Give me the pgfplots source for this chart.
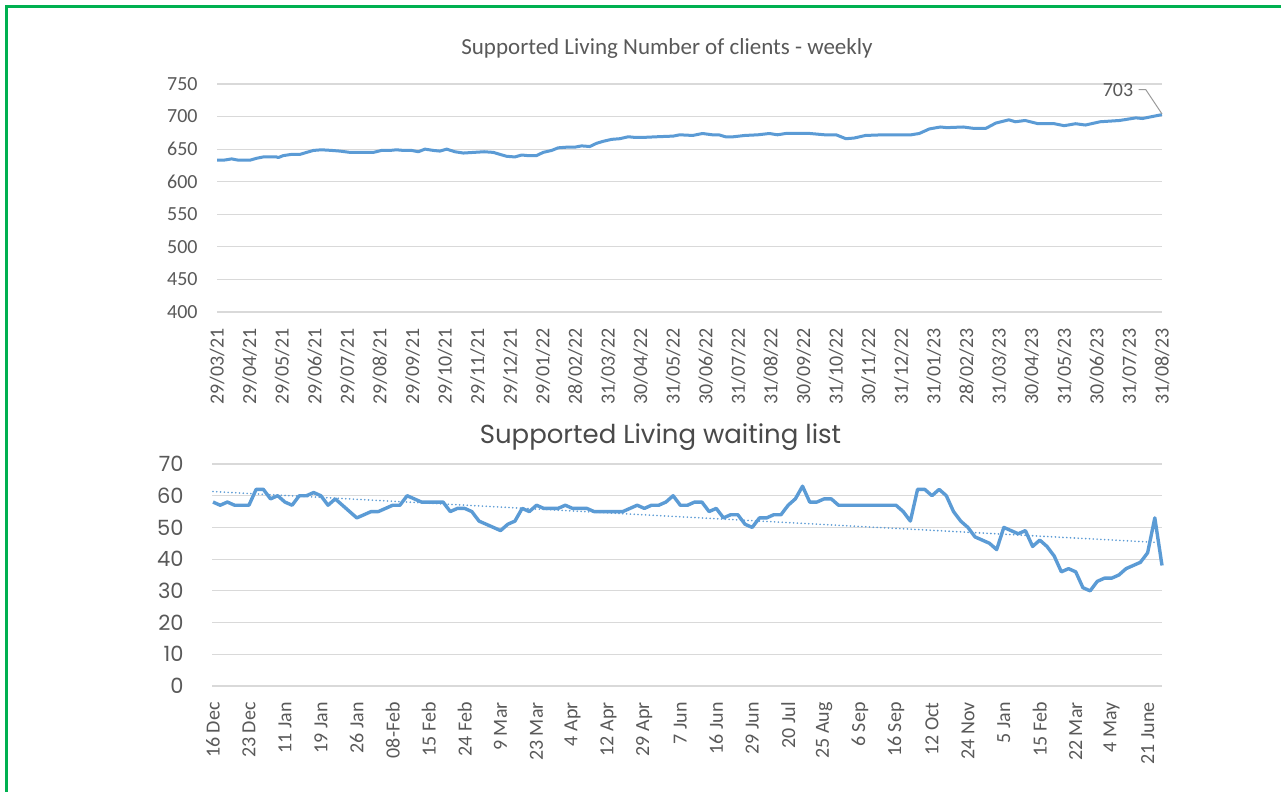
\documentclass[border=0pt]{standalone}
\usepackage{fontspec}
\setmainfont{Carlito}
\newfontfamily\geofont{Poppins}
\usepackage{pgfplots}
\pgfplotsset{compat=1.18}
\usepackage{pgfplotstable}
\definecolor{lineblue}{HTML}{5B9BD5}
\definecolor{gridgray}{HTML}{D9D9D9}
\definecolor{tickgray}{HTML}{595959}
\definecolor{titlegray}{HTML}{4A4A4A}
\definecolor{framegreen}{HTML}{00B050}

% weekly clients, x in months since 29/03/21
\pgfplotstableread{
m val
0 633
0.2 633
0.45 635
0.66 633
1.01 633
1.22 636
1.42 638
1.83 638
1.88 637
2.03 640
2.29 642
2.55 642
2.75 645
2.96 648
3.21 649
3.52 648
3.77 647
4.08 645
4.8 645
5.05 648
5.31 648
5.51 649
5.72 648
5.97 648
6.18 646
6.38 650
6.64 648
6.84 647
7.05 650
7.3 646
7.56 644
8.2 646
8.48 645
8.68 642
8.89 639
9.14 638
9.35 641
9.55 640
9.8 640
10.01 645
10.27 648
10.47 652
10.73 653
10.98 653
11.19 655
11.44 654
11.65 659
11.85 662
12.11 665
12.36 666
12.62 669
12.82 668
13.08 668
13.5 669
14.0 670
14.2 672
14.6 671
14.9 674
15.2 672
15.4 672
15.6 669
15.85 669
16.2 671
16.6 672
16.95 674
17.2 672
17.45 674
17.8 674
18.2 674
18.65 672
19.0 672
19.3 666
19.55 667
19.9 671
20.45 672
20.9 672
21.3 672
21.55 674
21.86 681
22.2 684
22.4 683
22.9 684
23.2 682
23.6 682
23.9 690
24.3 695
24.5 692
24.8 694
25.2 689
25.7 689
26.0 686
26.35 689
26.65 687
27.1 692
27.7 694
28.2 698
28.4 697
28.9 702
29 703
}\clients

% waiting list, one row per category
\pgfplotstableread{
i val
0 58
1 57
2 58
3 57
4 57
5 57
6 62
7 62
8 59
9 60
10 58
11 57
12 60
13 60
14 61
15 60
16 57
17 59
18 57
19 55
20 53
21 54
22 55
23 55
24 56
25 57
26 57
27 60
28 59
29 58
30 58
31 58
32 58
33 55
34 56
35 56
36 55
37 52
38 51
39 50
40 49
41 51
42 52
43 56
44 55
45 57
46 56
47 56
48 56
49 57
50 56
51 56
52 56
53 55
54 55
55 55
56 55
57 55
58 56
59 57
60 56
61 57
62 57
63 58
64 60
65 57
66 57
67 58
68 58
69 55
70 56
71 53
72 54
73 54
74 51
75 50
76 53
77 53
78 54
79 54
80 57
81 59
82 63
83 58
84 58
85 59
86 59
87 57
88 57
89 57
90 57
91 57
92 57
93 57
94 57
95 57
96 55
97 52
98 62
99 62
100 60
101 62
102 60
103 55
104 52
105 50
106 47
107 46
108 45
109 43
110 50
111 49
112 48
113 49
114 44
115 46
116 44
117 41
118 36
119 37
120 36
121 31
122 30
123 33
124 34
125 34
126 35
127 37
128 38
129 39
130 42
131 53
132 38
}\waiting

\pgfplotsset{
  excel/.style={
    scale only axis, anchor=south west, clip=false,
    axis line style={draw=none},
    major tick length=0pt, tick style={draw=none},
    ymajorgrids, grid style={color=gridgray, line width=0.6pt},
    /pgf/number format/assume math mode=true,
    xticklabel style={font=\fontsize{10}{12}\selectfont, text=tickgray,
      inner sep=0pt, yshift=-8pt, rotate=90, anchor=east},
  },
}

\begin{document}
\begin{tikzpicture}
\useasboundingbox (0,0) rectangle (640.5pt,396pt);
\fill[white] (0,0) rectangle (640.5pt,396pt);

\begin{axis}[excel,
  at={(108.5pt,240pt)}, width=472.5pt, height=114pt,
  xmin=0, xmax=29, ymin=400, ymax=750,
  ytick={400,450,...,750},
  yticklabel style={font=\fontsize{10}{12}\selectfont, text=tickgray,
    inner sep=0pt, anchor=east, xshift=-9.5pt},
  xtick={0,...,29},
  xticklabels={29/03/21,29/04/21,29/05/21,29/06/21,29/07/21,29/08/21,
    29/09/21,29/10/21,29/11/21,29/12/21,29/01/22,28/02/22,31/03/22,
    30/04/22,31/05/22,30/06/22,31/07/22,31/08/22,30/09/22,31/10/22,
    30/11/22,31/12/22,31/01/23,28/02/23,31/03/23,30/04/23,31/05/23,
    30/06/23,31/07/23,31/08/23},
]
\addplot[lineblue, line width=1.5pt, line join=round] table[x=m, y=val] {\clients};
\draw[gray!80, line width=0.5pt] (axis cs:28.28,741.5) -- (axis cs:28.5,741.5) -- (axis cs:29,704);
\node[anchor=east, inner sep=0pt, text=tickgray, font=\fontsize{10}{12}\selectfont]
  at (axis cs:28.13,740.5) {703};
\end{axis}

\node[text=tickgray, font=\fontsize{11.5}{13}\selectfont] at (333.5pt,371.5pt)
  {Supported Living Number of clients - weekly};

\begin{axis}[excel,
  at={(106pt,53pt)}, width=475pt, height=111pt,
  xmin=-0.14, xmax=132, ymin=0, ymax=70,
  ytick={0,10,...,70},
  yticklabel style={font=\geofont\fontsize{10.5}{12}\selectfont, text=tickgray,
    inner sep=0pt, anchor=east, xshift=-14pt},
  xtick={0,5,...,130},
  xticklabels={16 Dec,23 Dec,11 Jan,19 Jan,26 Jan,08-Feb,15 Feb,24 Feb,
    9 Mar,23 Mar,4 Apr,12 Apr,29 Apr,7 Jun,16 Jun,29 Jun,20 Jul,25 Aug,
    6 Sep,16 Sep,12 Oct,24 Nov,5 Jan,15 Feb,22 Mar,4 May,21 June},
]
\addplot[lineblue, line width=1.7pt, line join=round] table[x=i, y=val] {\waiting};
\addplot[lineblue, line width=0.9pt, line cap=round, dash pattern=on 0pt off 1.9pt]
  coordinates {(0,61.3) (131,45.3)};
\end{axis}

\node[text=titlegray, font=\geofont\fontsize{13}{15}\selectfont] at (330.25pt,177.5pt)
  {Supported Living waiting list};

\draw[framegreen, line width=1.5pt] (3.25pt,0) -- (3.25pt,392.75pt) -- (640.5pt,392.75pt);
\end{tikzpicture}
\end{document}
